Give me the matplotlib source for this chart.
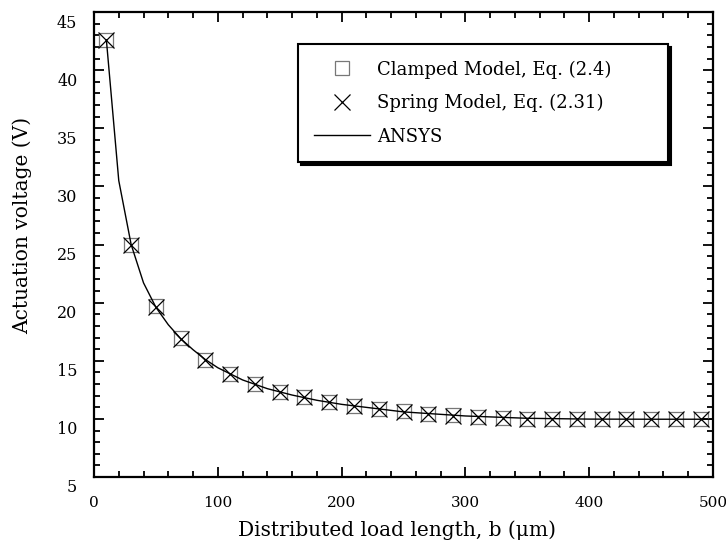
import matplotlib

matplotlib.use("Agg")
import matplotlib.pyplot as plt
import matplotlib.transforms as mtransforms
from matplotlib.ticker import MultipleLocator

# load length b (um) at which the two analytic models were evaluated
b_models = [10, 30, 50, 70, 90, 110, 130, 150, 170, 190, 210, 230, 250,
            270, 290, 310, 330, 350, 370, 390, 410, 430, 450, 470, 490]
v_clamped = [42.6, 25.0, 19.7, 16.95, 15.1, 13.9, 13.0, 12.35, 11.85, 11.45,
             11.1, 10.85, 10.65, 10.45, 10.3, 10.15, 10.05, 10.0, 9.97, 9.97,
             9.97, 9.97, 9.97, 9.97, 9.97]
v_spring = [42.6, 25.0, 19.65, 16.9, 15.05, 13.85, 13.0, 12.35, 11.85, 11.45,
            11.1, 10.85, 10.62, 10.42, 10.27, 10.14, 10.05, 10.0, 9.97, 9.97,
            9.97, 9.97, 9.97, 9.97, 9.97]

# FEM (ANSYS) curve
b_ansys = [10, 20, 30, 40, 50, 60, 70, 80, 90, 100, 120, 140, 160, 180, 200,
           250, 300, 350, 400, 450, 500]
v_ansys = [42.6, 30.5, 25.0, 21.7, 19.6, 18.1, 16.9, 15.95, 15.1, 14.4, 13.35,
           12.6, 12.05, 11.6, 11.25, 10.6, 10.25, 10.05, 9.98, 9.97, 9.97]

plt.rcParams["font.family"] = ["DejaVu Serif"]

fig = plt.figure(figsize=(7.26, 5.48), dpi=100)
ax = fig.add_axes([94 / 726, 71 / 548, 619 / 726, 465 / 548])

ax.plot(b_models, v_clamped, ls="none", marker="s", ms=10, mfc="none",
        mec="#777777", mew=0.9, label="Clamped Model, Eq. (2.4)")
ax.plot(b_models, v_spring, ls="none", marker="x", ms=11, mec="black",
        mew=0.9, label="Spring Model, Eq. (2.31)")
ax.plot(b_ansys, v_ansys, color="black", lw=1.0, label="ANSYS")

ax.set_xlim(0, 500)
ax.set_ylim(5, 45)
ax.xaxis.set_major_locator(MultipleLocator(100))
ax.xaxis.set_minor_locator(MultipleLocator(20))
ax.yaxis.set_major_locator(MultipleLocator(5))
ax.yaxis.set_minor_locator(MultipleLocator(1))
ax.tick_params(which="both", direction="in", top=True, right=True, width=1.3)
ax.tick_params(which="major", length=7)
ax.tick_params(which="minor", length=4.5)
ax.tick_params(axis="x", pad=14, labelsize=11)
ax.tick_params(axis="y", pad=12, labelsize=11.5)
for s in ax.spines.values():
    s.set_linewidth(1.6)

# y labels sit a little below their ticks
shift = mtransforms.ScaledTranslation(0, -9 / 100, fig.dpi_scale_trans)
for lab in ax.get_yticklabels():
    lab.set_transform(lab.get_transform() + shift)

ax.set_xlabel("Distributed load length, b (\u03bcm)", fontsize=14.5)
ax.set_ylabel("Actuation voltage (V)", fontsize=14.5)
ax.xaxis.set_label_coords(0.4887, -0.0925)
ax.yaxis.set_label_coords(-0.100, 0.542)

leg = ax.legend(loc="upper left", bbox_to_anchor=(0.3296, 0.631, 0.5977, 0.3),
                mode="expand", borderaxespad=0, fontsize=13,
                handlelength=3.1, handletextpad=0.39, labelspacing=0.85,
                fancybox=False, framealpha=1, edgecolor="black",
                borderpad=0.91, shadow={"color": "black", "alpha": 1})
leg.get_frame().set_linewidth(1.5)

fig.savefig("out.png", dpi=100)
